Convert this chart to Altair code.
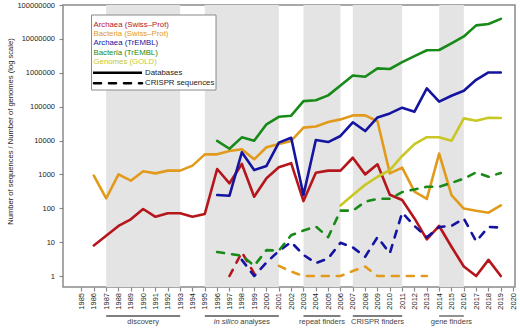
import altair as alt
import pandas as pd

# ---------------- data ----------------
series_names = ["Archaea (Swiss\u2013Prot)", "Bacteria (Swiss\u2013Prot)",
                "Archaea (TrEMBL)", "Bacteria (TrEMBL)", "Genomes (GOLD)"]
series_colors = ["#B5161B", "#E29A1C", "#1414A0", "#178A17", "#C9C724"]

# Databases (solid lines)
archaea_sp_start = 1986
archaea_sp = [8, 15.5, 30, 47, 95, 56, 71, 71, 56, 68, 1440, 545, 2030, 219, 765,
              1620, 2140, 163, 1120, 1290, 1290, 3100, 1000, 1990, 250, 175, 50,
              12, 30, 7.3, 1.9, 1, 3, 1]
bacteria_sp_start = 1986
bacteria_sp = [920, 196, 1000, 650, 1230, 1070, 1290, 1290, 1810, 3900, 3900, 4900,
               5500, 2780, 6300, 7900, 9700, 24000, 26000, 35000, 42000, 55000,
               55000, 37000, 1070, 1590, 310, 188, 4100, 245, 98, 84, 74, 122]
archaea_tr_start = 1996
archaea_tr = [245, 235, 4470, 1340, 1770, 8660, 12000, 245, 10300, 9000, 13600,
              34500, 19000, 48000, 63000, 93000, 71000, 347000, 140000, 210000,
              295000, 620000, 1020000, 1020000]
bacteria_tr_start = 1996
bacteria_tr = [9700, 5700, 12400, 9870, 30000, 50000, 54000, 145000, 155000,
               215000, 420000, 830000, 760000, 1350000, 1290000, 2050000, 3100000,
               4600000, 4700000, 7400000, 11800000, 25000000, 27500000, 39000000]
genomes_start = 2006
genomes = [120, 245, 490, 850, 1340, 3500, 7800, 12500, 12500, 9800, 45000, 38500,
           47000, 46000]

# CRISPR sequences (dashed lines)
archaea_sp_cr_start = 1997
archaea_sp_cr = [1, 5, 1.2]
bacteria_sp_cr_start = 2001
bacteria_sp_cr = [2, 1.35, 1, 1, 1, 1, 1.4, 1.9, 1, 1, 1, 1, 1]
archaea_tr_cr_start = 1998
archaea_tr_cr = [3, 1, 2.5, 5.5, 10, 4.2, 2.4, 3.3, 9.6, 7, 3.7, 14, 4.7, 74, 30,
                 14, 28, 30, 50, 10.5, 28, 27]
bacteria_tr_cr_start = 1996
bacteria_tr_cr = [5.1, 4.5, 4, 2, 5.8, 5.6, 16, 22, 29, 14, 85, 85, 156, 190, 190,
                  300, 360, 430, 430, 560, 750, 1150, 850, 1100]

# research periods
period_labels = ["discovery", "in silico analyses", "repeat finders",
                 "CRISPR finders", "gene finders"]
period_start = [1987, 1995, 2003, 2007, 2014]
period_end = [1993, 2001, 2006, 2011, 2016]

year_ticks = list(range(1985, 2021))
value_ticks = [1, 10, 100, 1000, 10000, 100000, 1000000, 10000000, 100000000]

# ---------------- tables ----------------
rows = []
def add(name, kind, start, values):
    for i, v in enumerate(values):
        rows.append({"series": name, "kind": kind, "year": start + i,
                     "value": v, "key": name + "|" + kind})

add(series_names[0], "db", archaea_sp_start, archaea_sp)
add(series_names[1], "db", bacteria_sp_start, bacteria_sp)
add(series_names[2], "db", archaea_tr_start, archaea_tr)
add(series_names[3], "db", bacteria_tr_start, bacteria_tr)
add(series_names[4], "db", genomes_start, genomes)
add(series_names[0], "cr", archaea_sp_cr_start, archaea_sp_cr)
add(series_names[1], "cr", bacteria_sp_cr_start, bacteria_sp_cr)
add(series_names[2], "cr", archaea_tr_cr_start, archaea_tr_cr)
add(series_names[3], "cr", bacteria_tr_cr_start, bacteria_tr_cr)
df = pd.DataFrame(rows)

pdf = pd.DataFrame({"label": period_labels, "start": period_start, "end": period_end})
pdf["mid"] = (pdf["start"] + pdf["end"]) / 2

W, H = 452, 282
FONT = "Liberation Sans"
GRAY = "#8a8a8a"
DASH = [7, 8]

xscale = alt.Scale(domain=[1983.5, 2020.15], nice=False, zero=False)
yscale = alt.Scale(type="log", domain=[0.4735, 1e8], nice=False)

xaxis = alt.Axis(values=year_ticks, format="d", labelAngle=-90, title=None,
                 labelPadding=1.5, labelFontSize=7.5, tickSize=4,
                 labelOverlap=False, labelFlush=False, labelBound=False)
yaxis = alt.Axis(values=value_ticks, format="d",
                 title="Number of sequences / Number of genomes (log scale)",
                 titleX=-53, titleY=126, titleAlign="center",
                 titleBaseline="middle", titleAngle=270,
                 labelPadding=4.5, labelFontSize=7.5, tickSize=4,
                 labelOverlap=False, labelFlush=False)

X = alt.X("year:Q", scale=xscale, axis=xaxis)
Y = alt.Y("value:Q", scale=yscale, axis=yaxis)

bands = alt.Chart(pdf).mark_rect(color="#E4E4E4").encode(
    x=alt.X("start:Q", scale=xscale, axis=xaxis), x2="end:Q",
    y=alt.value(0), y2=alt.value(H))

color_enc = alt.Color("series:N",
                      scale=alt.Scale(domain=series_names, range=series_colors),
                      legend=None)

lines_db = alt.Chart(df).transform_filter(alt.datum.kind == "db").mark_line(
    strokeWidth=2.6, strokeCap="round", strokeJoin="round").encode(
    x=X, y=Y, color=color_enc, detail="key:N")

lines_cr = alt.Chart(df).transform_filter(alt.datum.kind == "cr").mark_line(
    strokeWidth=2.6, strokeCap="round", strokeJoin="round", strokeDash=DASH).encode(
    x=X, y=Y, color=color_enc, detail="key:N")

# period annotations under the axis
period_rules = alt.Chart(pdf).mark_rule(color="#555555", strokeWidth=1.3).encode(
    x=alt.X("start:Q", axis=xaxis), x2="end:Q", y=alt.value(311))
period_text = alt.Chart(pdf).transform_filter(
    alt.datum.label != "in silico analyses").mark_text(
    fontSize=7.5, color="#444444", baseline="middle", font=FONT).encode(
    x=alt.X("mid:Q", axis=xaxis), y=alt.value(316.7), text="label:N")
insilico = alt.Chart(pdf).transform_filter(
    alt.datum.label == "in silico analyses").transform_calculate(
    t="'in silico'").mark_text(
    fontSize=7.5, color="#444444", baseline="middle", align="right", dx=-3.5,
    fontStyle="italic", font=FONT).encode(
    x=alt.X("mid:Q", axis=xaxis), y=alt.value(316.7), text="t:N")
analyses = alt.Chart(pdf).transform_filter(
    alt.datum.label == "in silico analyses").transform_calculate(
    t="'analyses'").mark_text(
    fontSize=7.5, color="#444444", baseline="middle", align="left", dx=-1.5,
    font=FONT).encode(
    x=alt.X("mid:Q", axis=xaxis), y=alt.value(316.7), text="t:N")

# manual legend
leg_box = alt.Chart(pd.DataFrame({"a": [0]})).mark_rect(
    fill="white", stroke=GRAY, strokeWidth=1).encode(
    x=alt.value(28.5), x2=alt.value(153), y=alt.value(10), y2=alt.value(85))
leg_layers = [leg_box]
for i, (name, col) in enumerate(zip(series_names, series_colors)):
    leg_layers.append(
        alt.Chart(pd.DataFrame({"t": [name]})).mark_text(
            align="left", baseline="middle", fontSize=7.8, color=col, font=FONT).encode(
            x=alt.value(30.5), y=alt.value(20 + 9.2 * i), text="t:N"))
leg_layers.append(alt.Chart(pd.DataFrame({"a": [0]})).mark_rule(
    color="black", strokeWidth=2.6).encode(
    x=alt.value(30), x2=alt.value(79), y=alt.value(67.7)))
leg_layers.append(alt.Chart(pd.DataFrame({"a": [0]})).mark_rule(
    color="black", strokeWidth=2.6, strokeDash=DASH, strokeCap="round").encode(
    x=alt.value(31), x2=alt.value(79), y=alt.value(78.3)))
leg_layers.append(alt.Chart(pd.DataFrame({"t": ["Databases"]})).mark_text(
    align="left", baseline="middle", fontSize=7.8, color="#222222", font=FONT).encode(
    x=alt.value(82), y=alt.value(67.5), text="t:N"))
leg_layers.append(alt.Chart(pd.DataFrame({"t": ["CRISPR sequences"]})).mark_text(
    align="left", baseline="middle", fontSize=7.8, color="#222222", font=FONT).encode(
    x=alt.value(82), y=alt.value(78.3), text="t:N"))

chart = alt.layer(
    bands, lines_db, lines_cr, period_rules, period_text, insilico, analyses,
    *leg_layers
).properties(
    width=W, height=H,
    autosize=alt.AutoSizeParams(type="none"),
    padding={"left": 63, "top": 5, "right": 5, "bottom": 41},
).configure(font=FONT).configure_view(
    stroke=GRAY, strokeWidth=1.5
).configure_axis(
    domain=False, grid=False, tickColor=GRAY, tickWidth=1.2,
    labelColor="#222222", titleColor="#222222", titleFontSize=7.6,
    titleFontWeight="normal", labelFont=FONT, titleFont=FONT,
    labelOverlap=False, labelFlush=False
)

chart.save("out.html", embed_options={"renderer": "svg", "actions": False})
